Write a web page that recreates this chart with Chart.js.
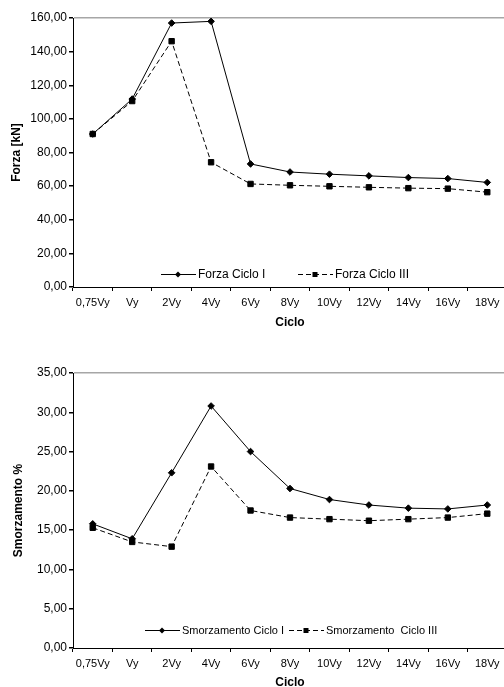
<!DOCTYPE html>
<html>
<head>
<meta charset="utf-8">
<script src="https://cdn.jsdelivr.net/npm/chart.js@4"></script>
<style>
  html, body { margin: 0; padding: 0; background: #fff; overflow: hidden; width: 504px; height: 687px; }
  .box { position: absolute; left: 0; width: 512px; }
  #top { top: 0; height: 330px; }
  #bottom { top: 330px; height: 360px; }
</style>
</head>
<body>
<div class="box" id="top"><canvas id="forzaChart" width="512" height="330"></canvas></div>
<div class="box" id="bottom"><canvas id="smorzChart" width="512" height="360"></canvas></div>
<script>
// data
var categories = ['0,75Vy', 'Vy', '2Vy', '4Vy', '6Vy', '8Vy', '10Vy', '12Vy', '14Vy', '16Vy', '18Vy'];
var forzaCicloI = [91.0, 111.8, 157.0, 158.0, 73.2, 68.4, 67.1, 66.1, 65.1, 64.5, 62.2];
var forzaCicloIII = [91.0, 110.6, 146.2, 74.2, 61.3, 60.5, 59.9, 59.3, 58.8, 58.5, 56.4];
var smorzCicloI = [15.8, 13.9, 22.3, 30.8, 25.0, 20.3, 18.9, 18.2, 17.8, 17.7, 18.2];
var smorzCicloIII = [15.3, 13.5, 12.9, 23.1, 17.5, 16.6, 16.4, 16.2, 16.4, 16.6, 17.1];

var FONT = "'Liberation Sans', Arial, sans-serif";

function comma(v){
    return Number(v).toFixed(2).replace('.', ',');
}

function drawMarker(ctx, style, x, y){
    ctx.beginPath();
    if(style === 'rect'){
        ctx.rect(x - 2.5, y - 2.5, 5, 5);
    }else{
        ctx.moveTo(x, y - 3);
        ctx.lineTo(x + 3, y);
        ctx.lineTo(x, y + 3);
        ctx.lineTo(x - 3, y);
        ctx.closePath();
    }
    ctx.fill();
}

// legend drawn inside the plot area, like the spreadsheet original
var innerLegend = {
    id: 'innerLegend',
    afterDraw: function(chart, args, opts){
        var ctx = chart.ctx;
        ctx.save();
        ctx.font = opts.size + 'px ' + FONT;
        ctx.textBaseline = 'middle';
        ctx.fillStyle = '#000';
        chart.data.datasets.forEach(function(ds, i){
            var x = opts.x[i], y = opts.y;
            ctx.strokeStyle = '#000';
            ctx.lineWidth = 1;
            ctx.setLineDash(ds.borderDash || []);
            ctx.beginPath();
            ctx.moveTo(x, y + 0.5);
            ctx.lineTo(x + 35, y + 0.5);
            ctx.stroke();
            ctx.setLineDash([]);
            drawMarker(ctx, ds.pointStyle, x + 17, y + 0.5);
            ctx.fillText(ds.label, x + 37, y + 1);
        });
        ctx.restore();
    }
};

function makeChart(id, labels, s1, s2, names, yTitle, yMax, yStep, pad, xHeight, titlePad, legend){
    var ctx = document.getElementById(id).getContext('2d');
    return new Chart(ctx, {
        type: 'line',
        data: {
            labels: labels,
            datasets: [{
                label: names[0],
                data: s1,
                borderColor: '#000',
                backgroundColor: '#000',
                borderWidth: 1,
                pointStyle: 'rectRot',
                pointRadius: 3.3,
                tension: 0
            }, {
                label: names[1],
                data: s2,
                borderColor: '#000',
                backgroundColor: '#000',
                borderWidth: 1,
                borderDash: [5, 3],
                pointStyle: 'rect',
                pointRadius: 3.8,
                tension: 0
            }]
        },
        options: {
            responsive: false,
            animation: false,
            devicePixelRatio: 1,
            layout: { padding: { top: pad, right: 2, left: 0, bottom: 0 } },
            plugins: {
                legend: { display: false },
                tooltip: { enabled: false },
                innerLegend: legend
            },
            scales: {
                x: {
                    offset: true,
                    grid: { offset: true, drawOnChartArea: false, drawTicks: true, tickLength: 4, color: '#000' },
                    border: { display: true, color: '#000', width: 1 },
                    ticks: { color: '#000', font: { family: FONT, size: 11 }, padding: 5, maxRotation: 0, autoSkip: false },
                    title: { display: true, text: 'Ciclo', color: '#000', font: { family: FONT, size: 12, weight: 'bold' }, padding: { top: 0, bottom: 0 } },
                    afterFit: function(scale){ scale.height = xHeight; }
                },
                y: {
                    min: 0,
                    max: yMax,
                    ticks: { stepSize: yStep, color: '#000', font: { family: FONT, size: 12 }, padding: 2, callback: comma },
                    grid: {
                        drawOnChartArea: true,
                        tickLength: 4,
                        tickColor: '#000',
                        color: function(c){ return c.tick && c.tick.value === yMax ? '#a6a6a6' : 'rgba(0,0,0,0)'; },
                        lineWidth: 1.5
                    },
                    border: { display: true, color: '#000', width: 1 },
                    title: { display: true, text: yTitle, color: '#000', font: { family: FONT, size: 12, weight: 'bold' }, padding: { top: titlePad, bottom: 0 } },
                    afterFit: function(scale){ scale.width = 73; }
                }
            }
        },
        plugins: [innerLegend]
    });
}

window.onload = function(){
    makeChart('forzaChart', categories, forzaCicloI, forzaCicloIII,
        ['Forza Ciclo I', 'Forza Ciclo III'], 'Forza [kN]', 160, 20, 18, 43, 9,
        { x: [161, 298], y: 274, size: 12 });
    makeChart('smorzChart', categories, smorzCicloI, smorzCicloIII,
        ['Smorzamento Ciclo I', 'Smorzamento  Ciclo III'], 'Smorzamento %', 35, 5, 43, 42, 11,
        { x: [145, 289], y: 300, size: 11 });
};
</script>
</body>
</html>
